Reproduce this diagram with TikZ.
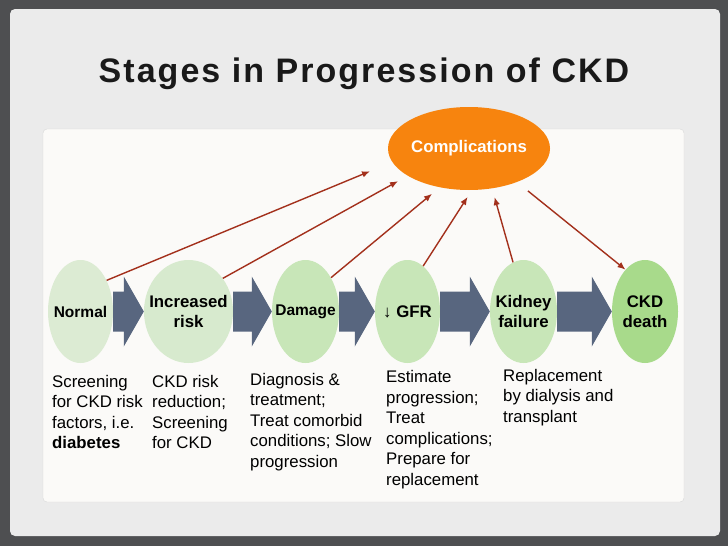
\documentclass[tikz,border=0pt]{standalone}
\usepackage{fontspec}
\setmainfont{Liberation Sans}
\newfontfamily\titlefont[LetterSpace=6.0]{Liberation Sans}
\usetikzlibrary{shapes, calc, arrows.meta, positioning}

\definecolor{outerbg}{HTML}{4E4F51}
\definecolor{panelbg}{HTML}{EBEBEB}
\definecolor{innerbg}{HTML}{FBFAF8}
\definecolor{innerline}{HTML}{D8D8D8}
\definecolor{paleA}{HTML}{DCEBD3}
\definecolor{paleB}{HTML}{D7EACE}
\definecolor{midgreen}{HTML}{C8E6B8}
\definecolor{deepgreen}{HTML}{A8DA8B}
\definecolor{slate}{HTML}{58667F}
\definecolor{linkred}{HTML}{A3301C}
\definecolor{compor}{HTML}{F7840E}

\tikzset{
  stage/.style={ellipse, minimum width=#1, minimum height=103pt, inner sep=0pt},
  stagetext/.style={align=center, inner sep=0pt, font=\bfseries\fontsize{16.8}{20}\selectfont},
  smalltext/.style={align=center, inner sep=0pt, font=\bfseries\fontsize{15.5}{19}\selectfont},
  body/.style={anchor=base west, align=left, inner sep=0pt, font=\fontsize{16.8}{20.5}\selectfont},
  link/.style={->, draw=linkred, line width=1.4pt},
  bigarrow/.style={fill=slate}
}

% block arrow between two stages
\newcommand{\stagearrow}[2]{%
  \fill[bigarrow] let \p1=(#1.east), \p2=(#2.west) in
    (\x1,\y1+20pt) -- (\x2-20pt,\y1+20pt) -- (\x2-20pt,\y1+35pt) -- (\x2,\y1)
    -- (\x2-20pt,\y1-35pt) -- (\x2-20pt,\y1-20pt) -- (\x1,\y1-20pt) -- cycle;}

\begin{document}
\begin{tikzpicture}[x=1pt, y=-1pt, >={Latex[length=8pt,width=6.5pt]}]

% background
\fill[outerbg] (0,0) rectangle (728,546);
\fill[panelbg, rounded corners=5pt] (10,9) rectangle (720,536);
\filldraw[fill=innerbg, draw=innerline, rounded corners=4pt] (43,129) rectangle (684,502);

\node[anchor=base, inner sep=0pt, font=\titlefont\bfseries\fontsize{34}{40}\selectfont, text=black!90] (ttl) at (364,82) {Stages in Progression of CKD};

\node[ellipse, fill=compor, minimum width=162pt, minimum height=83pt, inner sep=0pt,
  label={[inner sep=0pt, text=white, font=\bfseries\fontsize{16.8}{20}\selectfont]center:Complications}] (comp) at (469,148.5) {};

% stages
\node[stage=65pt, fill=paleA, label={[smalltext]center:Normal}] (norm) at (80.5,311.5) {};
\node[stage=89pt, fill=paleB, label={[stagetext]center:{Increased\\risk}}] (inc) at (188.5,311.5) {};
\node[stage=67pt, fill=midgreen, label={[smalltext]center:Damage}] (dam) at (305.5,311.5) {};
\node[stage=65pt, fill=midgreen, label={[stagetext]center:{{\mdseries ↓}~GFR}}] (gfr) at (407.5,311.5) {};
\node[stage=67pt, fill=midgreen, label={[stagetext]center:{Kidney\\failure}}] (kid) at (523.5,311.5) {};
\node[stage=66pt, fill=deepgreen, label={[stagetext]center:{CKD\\death}}] (dth) at (645,311.5) {};

\stagearrow{norm}{inc}
\stagearrow{inc}{dam}
\stagearrow{dam}{gfr}
\stagearrow{gfr}{kid}
\stagearrow{kid}{dth}

% links to complications
\draw[link, shorten >=24pt] (norm.50) -- (comp.190);
\draw[link, shorten >=11pt] (inc.44) -- (comp.204);
\draw[link, shorten >=10pt] (dam.53) -- (comp.233);
\draw[link, shorten >=8pt] (gfr.71) -- (comp.274);
\draw[link, shorten >=9pt] (kid.102) -- (comp.300);
\draw[link, shorten <=14pt] (comp.325) -- (dth.115);

% what to do at each stage (placed by the last baseline)
\node[body] (t1) at (52,448.5) {Screening\\for CKD risk\\factors, i.e.\\\textbf{diabetes}};
\node[body] (t2) at (152,448.5) {CKD risk\\reduction;\\Screening\\for CKD};
\node[body] (t3) at (250,467) {Diagnosis \&\\treatment;\\Treat comorbid\\conditions; Slow\\progression};
\node[body] (t4) at (386,485) {Estimate\\progression;\\Treat\\complications;\\Prepare for\\replacement};
\node[body] (t5) at (503,422) {Replacement\\by dialysis and\\transplant};

\end{tikzpicture}
\end{document}
